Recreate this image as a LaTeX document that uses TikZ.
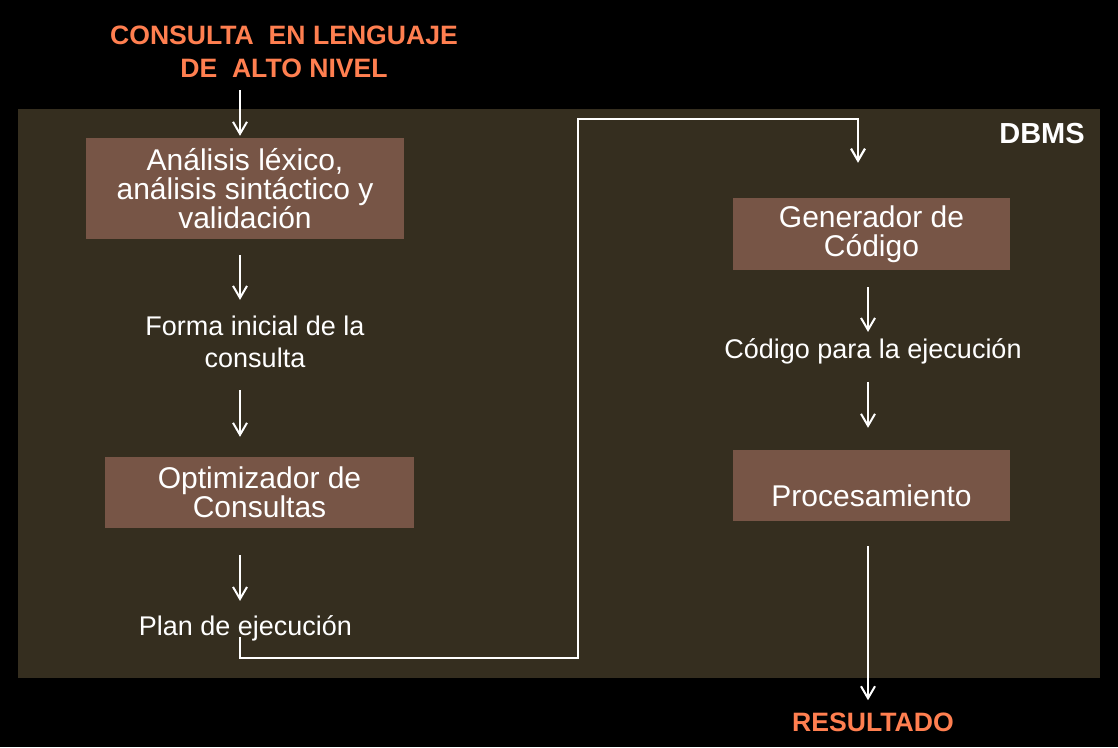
\documentclass[tikz,border=0pt]{standalone}
\usepackage{fontspec}
\setmainfont{Liberation Sans}
\usetikzlibrary{arrows.meta,calc}
\definecolor{bgpanel}{HTML}{352E1F}
\definecolor{boxfill}{HTML}{775546}
\definecolor{titleorange}{HTML}{FF7F50}
\begin{document}
\begin{tikzpicture}[x=1pt,y=-1pt,
  procbox/.style={fill=boxfill, draw=none, text=white, align=center,
    font=\fontsize{30}{29}\selectfont, inner sep=0pt},
  lbl/.style={text=white, align=center, font=\fontsize{27}{32}\selectfont, inner sep=0pt},
  ttl/.style={text=titleorange, align=center, font=\bfseries\fontsize{26.6}{33}\selectfont, inner sep=0pt},
  arr/.style={draw=white, line width=2pt, -{Straight Barb[length=12pt,width=14pt]}},
  conn/.style={draw=white, line width=2.2pt}]
\fill[black] (0,0) rectangle (1118,747);
\useasboundingbox (0,0) rectangle (1118,747);
\fill[bgpanel] (18,109) rectangle (1100,678);

\coordinate (colL) at (240,0);
\coordinate (colR) at (868,0);
\coordinate (colT) at (858,0);
\coordinate (rb) at (578,658);
\coordinate (rt) at (578,119);

\node[ttl] (title) at (284,52) {CONSULTA\ \ EN LENGUAJE\\DE\ \ ALTO NIVEL};
\node[procbox, minimum width=318pt, minimum height=101pt] (b1) at (245,188.5)
  {Análisis léxico,\\análisis sintáctico y\\validación};
\node[lbl] (forma) at (255,342) {Forma inicial de la\\consulta};
\node[procbox, minimum width=309pt, minimum height=71pt] (b2) at (259.5,492.5)
  {Optimizador de\\Consultas};
\node[lbl, anchor=base] (plan) at (245.5,635) {Plan de ejecución};
\node[procbox, minimum width=277pt, minimum height=72pt] (b3) at (871.5,234)
  {Generador de\\Código};
\node[lbl, anchor=base] (codigo) at (873,358) {Código para la ejecución};
\node[procbox, minimum width=277pt, minimum height=71pt] (b4) at (871.5,485.5)
  {\raisebox{-21pt}[0pt][0pt]{Procesamiento}};
\node[text=white, font=\bfseries\fontsize{29}{32}\selectfont, inner sep=0pt, anchor=base] (dbms) at (1042,143) {DBMS};
\node[ttl, anchor=base] (result) at (873,731) {RESULTADO};

\draw[arr] ([yshift=-12pt]title.south -| colL) -- ([yshift=2pt]b1.north -| colL);
\draw[arr] ([yshift=-16pt]b1.south -| colL) -- ([yshift=16pt]forma.north -| colL);
\draw[arr] ([yshift=-22pt]forma.south -| colL) -- ([yshift=20pt]b2.north -| colL);
\draw[arr] ([yshift=-27pt]b2.south -| colL) -- ([yshift=14pt]plan.north -| colL);
\draw[arr, line width=2.2pt] ([yshift=4pt]plan.south -| colL) |- (rb) -- (rt) -| ([yshift=35pt]b3.north -| colT);
\draw[arr] ([yshift=-17pt]b3.south -| colR) -- ([yshift=6pt]codigo.north -| colR);
\draw[arr] ([yshift=-18pt]codigo.south -| colR) -- ([yshift=22pt]b4.north -| colR);
\draw[arr] ([yshift=-25pt]b4.south -| colR) -- ([yshift=12pt]result.north -| colR);
\end{tikzpicture}
\end{document}
